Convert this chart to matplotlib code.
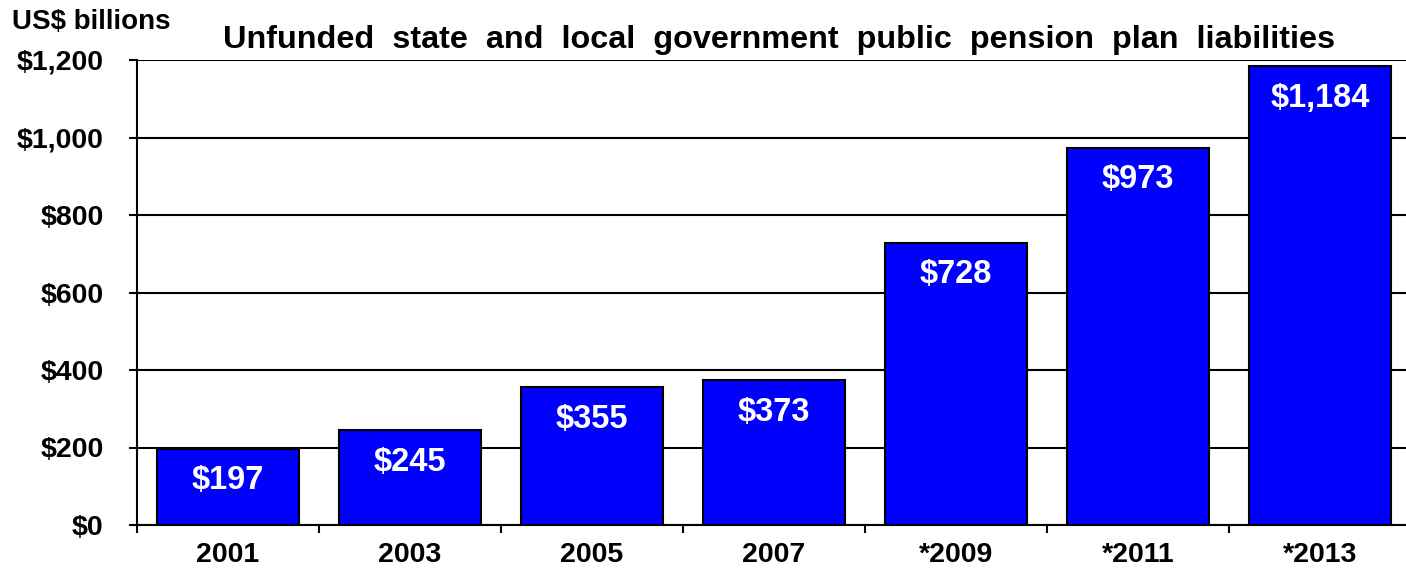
import matplotlib

matplotlib.use("Agg")
import matplotlib.pyplot as plt
import numpy as np

years = ["2001", "2003", "2005", "2007", "*2009", "*2011", "*2013"]
unfunded = [197, 245, 355, 373, 728, 973, 1184]
bar_labels = ["$197", "$245", "$355", "$373", "$728", "$973", "$1,184"]
y_ticks = [0, 200, 400, 600, 800, 1000, 1200]
y_tick_labels = ["$0", "$200", "$400", "$600", "$800", "$1,000", "$1,200"]

plt.rcParams["font.family"] = ["Liberation Sans", "DejaVu Sans"]
plt.rcParams["font.weight"] = "bold"

fig = plt.figure(figsize=(14.06, 5.73), dpi=100)
ax = fig.add_axes([137 / 1406, 48 / 573, 1274 / 1406, 465 / 573])

x = np.arange(len(years))
bars = ax.bar(x, unfunded, width=0.775, color="#0000FF", edgecolor="black",
              linewidth=1.5, zorder=3)

for b, lab in zip(bars, bar_labels):
    ax.annotate(lab, (b.get_x() + b.get_width() / 2, b.get_height()),
                xytext=(0, -23), textcoords="offset points",
                ha="center", va="center", color="white",
                fontsize=23.5, fontweight="bold", zorder=4)

ax.set_xlim(-0.5, len(years) - 0.5)
ax.set_ylim(0, 1200)
ax.set_yticks(y_ticks)
ax.set_yticklabels(y_tick_labels, fontsize=20.5, fontweight="bold")
ax.set_xticks(x)
ax.set_xticklabels(years, fontsize=20.5, fontweight="bold")
ax.set_xticks(np.arange(len(years) + 1) - 0.5, minor=True)
ax.tick_params(axis="x", which="major", length=0, pad=12)
ax.tick_params(axis="x", which="minor", length=6, width=1.5, direction="out")
ax.tick_params(axis="y", length=6, width=1.5, direction="out", pad=18)

ax.yaxis.grid(True, color="black", linewidth=1.5, zorder=1)
ax.set_axisbelow(True)
for side in ["top", "right"]:
    ax.spines[side].set_visible(False)
for side in ["left", "bottom"]:
    ax.spines[side].set_linewidth(1.5)

fig.text(779 / 1406, 1 - 40 / 573,
         "Unfunded  state  and  local  government  public  pension  plan  liabilities",
         ha="center", va="center", fontsize=23.3, fontweight="bold")
fig.text(12 / 1406, 1 - 22 / 573, "US$ billions", ha="left", va="center",
         fontsize=20, fontweight="bold")

fig.savefig("out.png", dpi=100)
